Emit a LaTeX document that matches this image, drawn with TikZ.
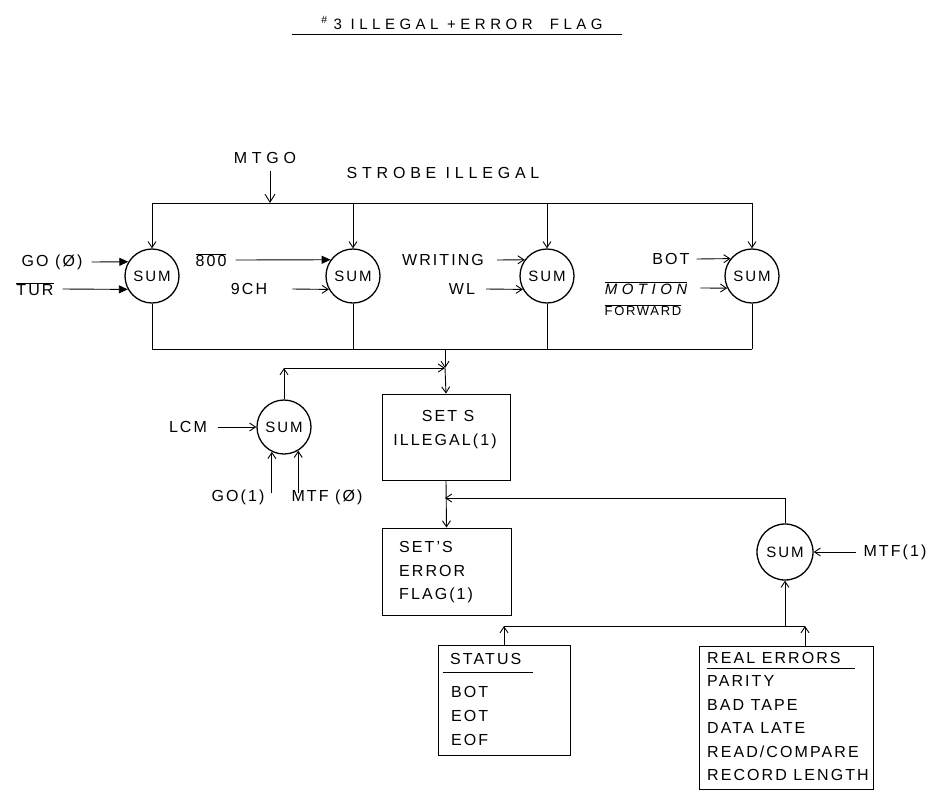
\documentclass[tikz,border=0pt]{standalone}
\usepackage{fontspec}
\setmainfont{Liberation Sans}[LetterSpace=13]
\newfontfamily\widefont{Liberation Sans}[LetterSpace=30]
\usetikzlibrary{arrows.meta,positioning,calc}
\newcommand{\ovl}[1]{$\overline{\mbox{#1}}$}

\begin{document}
\begin{tikzpicture}[
    x=1pt, y=-1pt,
    sum/.style={
        circle,
        draw,
        line width=1.3pt,
        minimum size=54pt,
        inner sep=0pt,
        font=\fontsize{15}{17}\selectfont
    },
    flagbox/.style={rectangle, draw, line width=0.9pt},
    lbl/.style={inner sep=1pt, font=\fontsize{16}{19}\selectfont},
    widelbl/.style={inner sep=1pt, font=\widefont\fontsize{15}{18}\selectfont},
    wire/.style={line width=0.9pt},
    feed/.style={wire, -{Straight Barb[length=6pt,width=8pt]}},
    heavy/.style={wire, -{Triangle[length=9pt,width=8pt]}}
]
    \useasboundingbox (0,0) rectangle (948,793);

    % Title
    \node[widelbl] (title) at (462,23) {\textsuperscript{\#}\hspace{6pt}3 ILLEGAL +ERROR\ \ FLAG};
    \draw[wire] (292,34) -- (622,34);

    % Strobe
    \node[widelbl, font=\widefont\fontsize{16}{18}\selectfont] (mtgo) at (265,158) {MTGO};
    \node[widelbl, font=\widefont\fontsize{16}{18}\selectfont] (strobe) at (443,173) {STROBE\ ILLEGAL};

    % Sums
    \node[sum] (sumA) at (152,276) {SUM};
    \node[sum] (sumB) at (353,276) {SUM};
    \node[sum] (sumC) at (547,276) {SUM};
    \node[sum] (sumD) at (752,276) {SUM};
    \node[sum] (sumL) at (284,427) {SUM};
    \node[sum, minimum size=56pt] (sumR) at (785,552) {SUM};

    \coordinate (strobebus) at (270,203);
    \coordinate (gather) at (445,349);
    \coordinate (merge) at (445,368);
    \coordinate (errin) at (445,498);
    \coordinate (errbus) at (785,626);

    % Buses
    \draw[wire] (sumA |- strobebus) -- (sumD |- strobebus);
    \draw[feed, -{Straight Barb[length=8pt,width=10pt]}] ([yshift=-6pt]strobebus |- mtgo.south) -- (strobebus);
    \foreach \s in {sumA,sumB,sumC,sumD}
        \draw[feed] (\s |- strobebus) -- (\s.north);
    \foreach \s in {sumA,sumB,sumC,sumD}
        \draw[wire] (\s.south) -- (\s |- gather);
    \draw[wire] (sumA |- gather) -- (sumD |- gather);

    % Inputs
    \node[lbl] (go0) at (52,262) {GO\ (Ø)};
    \node[lbl] (tur) at (35,289) {\ovl{TUR}};
    \node[lbl] (n800) at (211,260) {\ovl{800}};
    \node[lbl] (ch9) at (249,289) {9CH};
    \node[lbl] (writing) at (443,260) {WRITING};
    \node[lbl] (wl) at (462,289) {WL};
    \node[lbl] (bot) at (671,259) {BOT};
    \node[widelbl, font=\widefont\itshape\fontsize{15}{18}\selectfont] (motion) at (646,288) {\ovl{MOTION}};
    \node[lbl, font=\fontsize{13}{15}\selectfont] (forward) at (643,310) {\ovl{FORWARD}};

    \draw[heavy] ([xshift=8pt]go0.east) -- (sumA.149);
    \draw[heavy] ([xshift=8pt]tur.east) -- (sumA.209);
    \draw[heavy] ([xshift=8pt]n800.east) -- (sumB.144);
    \draw[feed] ([xshift=24pt]ch9.east) -- (sumB.209);
    \draw[feed] ([xshift=12pt]writing.east) -- (sumC.144);
    \draw[feed] ([xshift=10pt]wl.east) -- (sumC.209);
    \draw[feed] ([xshift=6pt]bot.east) -- (sumD.141);
    \draw[feed] ([xshift=12pt]motion.east) -- (sumD.206);

    % Illegal set
    \node[lbl] (lcm) at (188,427) {LCM};
    \node[lbl] (go1) at (238,497) {GO(1)};
    \node[lbl] (mtf0) at (327,497) {MTF (Ø)};
    \draw[feed] ([xshift=10pt]lcm.east) -- (sumL.west);
    \draw[feed] ([yshift=-5pt]sumL.244 |- go1.north) -- (sumL.244);
    \draw[feed] ([yshift=-5pt]sumL.301 |- mtf0.north) -- (sumL.301);

    \node[flagbox, minimum width=128pt, minimum height=86pt] (setill) at (446,437) {};
    \node[lbl] (setilla) at (448,416) {SET S};
    \node[lbl] (setillb) at (445,441) {ILLEGAL(1)};

    \draw[feed] (gather) -- (merge);
    \draw[feed] (sumL.north) -- (sumL |- merge);
    \draw[feed] (sumL |- merge) -- (merge);
    \draw[feed] (merge) -- (setill.north);

    % Error flag
    \node[flagbox, minimum width=129pt, minimum height=87pt] (seterr) at (446.5,571.5) {};
    \node[lbl, anchor=west] (seterra) at (398,547) {SET'S};
    \node[lbl, anchor=west] (seterrb) at (398,571) {ERROR};
    \node[lbl, anchor=west] (seterrc) at (398,595) {FLAG(1)};

    \node[lbl] (mtf1) at (895,552) {MTF(1)};
    \draw[feed] ([xshift=-6pt]mtf1.west) -- (sumR.east);
    \draw[feed] (setill.south) -- (seterr.north);
    \draw[feed] (sumR.north) |- (errin);

    % Error sources
    \node[flagbox, minimum width=132pt, minimum height=110pt] (status) at (504,700) {};
    \node[lbl, anchor=west] (statushd) at (449,659) {STATUS};
    \draw[wire] ($(status.north west)+(5,28)$) -- ($(status.north east)+(-37,28)$);
    \foreach \t [count=\i] in {BOT,EOT,EOF}
        \node[lbl, anchor=west] (stat-\i) at (450,668+24*\i) {\t};

    \node[flagbox, minimum width=174pt, minimum height=143pt] (real) at (786,717.5) {};
    \node[lbl, anchor=west] (realhd) at (706,658) {REAL ERRORS};
    \draw[wire] ($(real.north west)+(8,23)$) -- ($(real.north east)+(-18,23)$);
    \foreach \t [count=\i] in {PARITY,BAD TAPE,DATA LATE,READ/COMPARE,RECORD LENGTH}
        \node[lbl, anchor=west] (real-\i) at (706,657.5+23.5*\i) {\t};

    \draw[wire] (status.north |- errbus) -- ([xshift=19pt]real.north |- errbus);
    \draw[feed] (status.north) -- (status.north |- errbus);
    \draw[feed] ([xshift=19pt]real.north) -- ([xshift=19pt]real.north |- errbus);
    \draw[feed] (errbus) -- (sumR.south);
\end{tikzpicture}
\end{document}
